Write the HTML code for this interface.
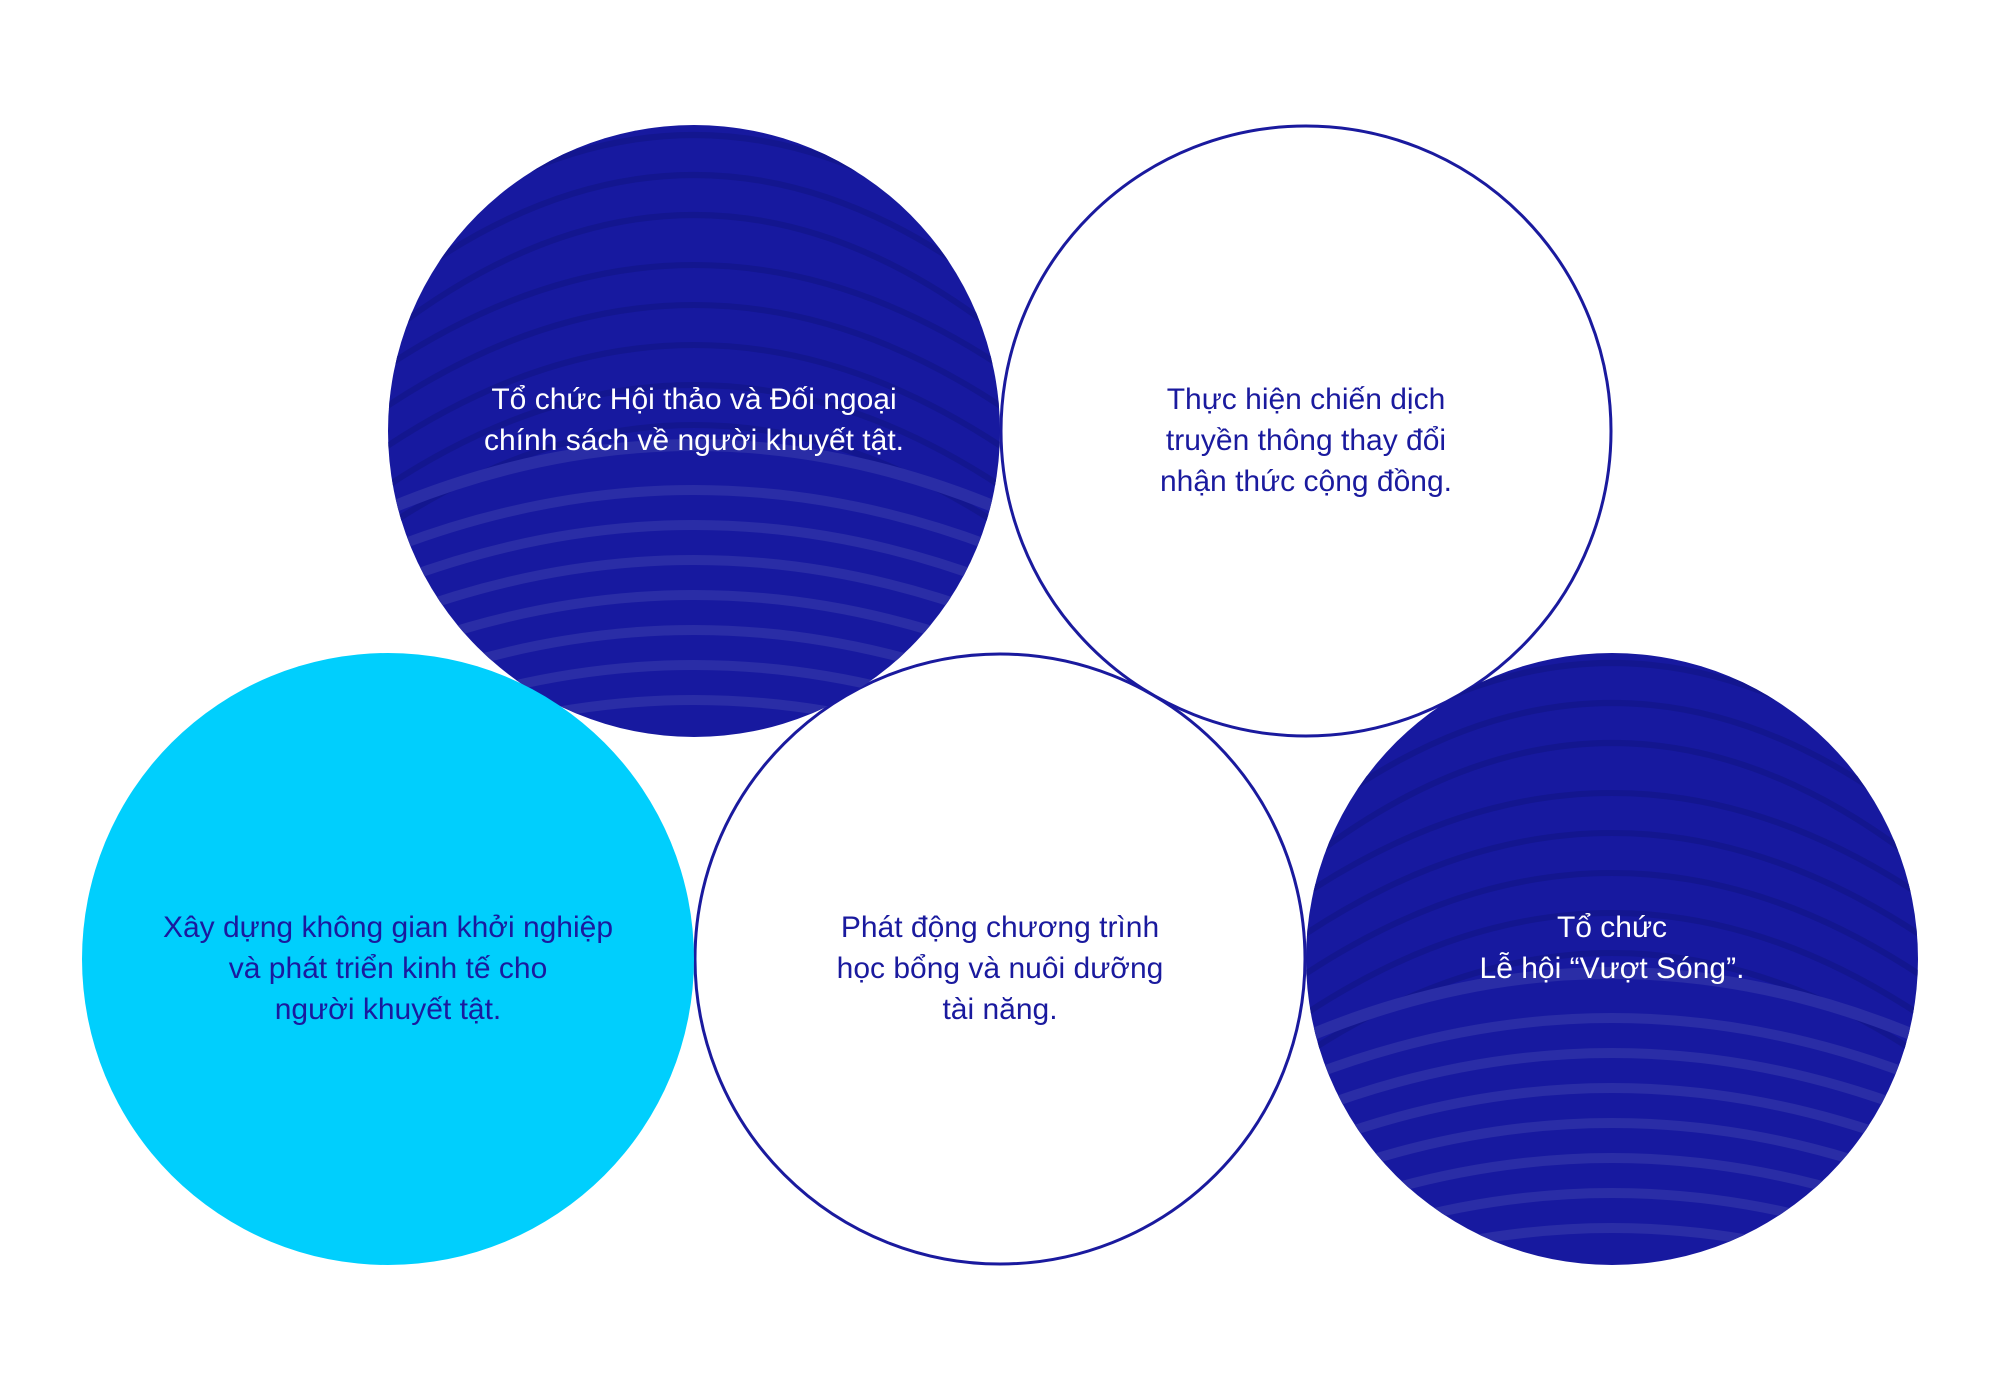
<!DOCTYPE html>
<html><head><meta charset="utf-8"><style>
html,body{margin:0;padding:0;background:#fff;width:2000px;height:1400px;overflow:hidden;}
#wrap{position:relative;width:2000px;height:1400px;overflow:hidden;}
svg{display:block;overflow:hidden;position:absolute;left:0;top:0}
text{font-family:"Liberation Sans","DejaVu Sans",sans-serif;font-size:30px;text-anchor:middle;}
</style></head><body><div id="wrap">
<svg width="2000" height="1400" viewBox="0 0 2000 1400" xmlns="http://www.w3.org/2000/svg">
<defs>
<clipPath id="c1"><circle cx="694" cy="431" r="306"/></clipPath>
<clipPath id="c2"><circle cx="1612" cy="959" r="306"/></clipPath>
</defs>
<circle cx="1306" cy="431" r="305" fill="none" stroke="#1a1a9e" stroke-width="3"/>
<circle cx="1000" cy="959" r="305" fill="none" stroke="#1a1a9e" stroke-width="3"/>
<g clip-path="url(#c1)">
  <rect x="388" y="125" width="612" height="612" fill="#17199f"/>
  <g fill="none" transform="translate(694,115)">
  <path d="M-320,150 Q0,-110 320,150" stroke="#13168f" stroke-width="6"/>
  <path d="M-320,190 Q0,-70 320,190" stroke="#13168f" stroke-width="6"/>
  <path d="M-320,230 Q0,-30 320,230" stroke="#13168f" stroke-width="6"/>
  <path d="M-320,260 Q0,40 320,260" stroke="#13168f" stroke-width="6"/>
  <path d="M-320,300 Q0,80 320,300" stroke="#13168f" stroke-width="6"/>
  <path d="M-320,340 Q0,120 320,340" stroke="#13168f" stroke-width="6"/>
  <path d="M-320,380 Q0,160 320,380" stroke="#13168f" stroke-width="6"/>
  <path d="M-320,420 Q0,200 320,420" stroke="#13168f" stroke-width="6"/>
  <path d="M-320,400 Q0,260 320,400" stroke="#2a2da6" stroke-width="12"/>
  <path d="M-320,440 Q0,310 320,440" stroke="#2a2da6" stroke-width="10"/>
  <path d="M-320,475 Q0,345 320,475" stroke="#2a2da6" stroke-width="10"/>
  <path d="M-320,510 Q0,380 320,510" stroke="#2a2da6" stroke-width="10"/>
  <path d="M-320,545 Q0,415 320,545" stroke="#2a2da6" stroke-width="10"/>
  <path d="M-320,580 Q0,450 320,580" stroke="#2a2da6" stroke-width="10"/>
  <path d="M-320,615 Q0,485 320,615" stroke="#2a2da6" stroke-width="10"/>
  <path d="M-320,650 Q0,520 320,650" stroke="#2a2da6" stroke-width="10"/>
  </g>
</g>
<g clip-path="url(#c2)">
  <rect x="1306" y="653" width="612" height="612" fill="#17199f"/>
  <g fill="none" transform="translate(1612,643)">
  <path d="M-320,150 Q0,-110 320,150" stroke="#13168f" stroke-width="6"/>
  <path d="M-320,190 Q0,-70 320,190" stroke="#13168f" stroke-width="6"/>
  <path d="M-320,230 Q0,-30 320,230" stroke="#13168f" stroke-width="6"/>
  <path d="M-320,260 Q0,40 320,260" stroke="#13168f" stroke-width="6"/>
  <path d="M-320,300 Q0,80 320,300" stroke="#13168f" stroke-width="6"/>
  <path d="M-320,340 Q0,120 320,340" stroke="#13168f" stroke-width="6"/>
  <path d="M-320,380 Q0,160 320,380" stroke="#13168f" stroke-width="6"/>
  <path d="M-320,420 Q0,200 320,420" stroke="#13168f" stroke-width="6"/>
  <path d="M-320,400 Q0,260 320,400" stroke="#2a2da6" stroke-width="12"/>
  <path d="M-320,440 Q0,310 320,440" stroke="#2a2da6" stroke-width="10"/>
  <path d="M-320,475 Q0,345 320,475" stroke="#2a2da6" stroke-width="10"/>
  <path d="M-320,510 Q0,380 320,510" stroke="#2a2da6" stroke-width="10"/>
  <path d="M-320,545 Q0,415 320,545" stroke="#2a2da6" stroke-width="10"/>
  <path d="M-320,580 Q0,450 320,580" stroke="#2a2da6" stroke-width="10"/>
  <path d="M-320,615 Q0,485 320,615" stroke="#2a2da6" stroke-width="10"/>
  <path d="M-320,650 Q0,520 320,650" stroke="#2a2da6" stroke-width="10"/>
  </g>
</g>
<circle cx="388" cy="959" r="306" fill="#00cffd"/>
<g fill="#ffffff">
<text x="694" y="409">Tổ chức Hội thảo và Đối ngoại</text>
<text x="694" y="450">chính sách về người khuyết tật.</text>
<text x="1612" y="937">Tổ chức</text>
<text x="1612" y="978">Lễ hội “Vượt Sóng”.</text>
</g>
<g fill="#1a1a9e">
<text x="1306" y="409">Thực hiện chiến dịch</text>
<text x="1306" y="450">truyền thông thay đổi</text>
<text x="1306" y="491">nhận thức cộng đồng.</text>
<text x="388" y="937">Xây dựng không gian khởi nghiệp</text>
<text x="388" y="978">và phát triển kinh tế cho</text>
<text x="388" y="1019">người khuyết tật.</text>
<text x="1000" y="937">Phát động chương trình</text>
<text x="1000" y="978">học bổng và nuôi dưỡng</text>
<text x="1000" y="1019">tài năng.</text>
</g>
</svg>
</div></body></html>
